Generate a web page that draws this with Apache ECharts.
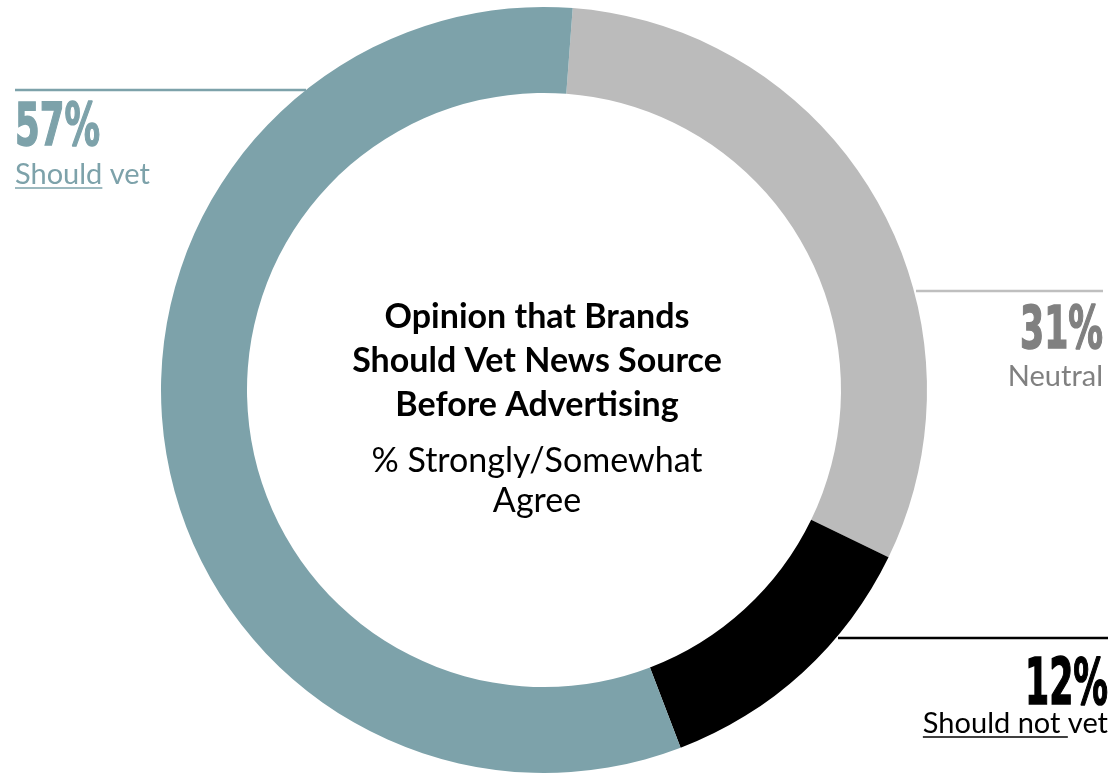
<!DOCTYPE html>
<html>
<head>
<meta charset="utf-8">
<script src="https://cdn.jsdelivr.net/npm/echarts@6/dist/echarts.min.js"></script>
<style>
html,body{margin:0;padding:0;background:#fff;}
#chart{width:1114px;height:775px;}
</style>
</head>
<body>
<div id="chart"></div>
<script>
// ---- data ----
const categories = ['Neutral', 'Should not vet', 'Should vet'];
const values = [31, 12, 57];
const pctLabels = ['31%', '12%', '57%'];
const underlinedParts = ['', 'Should not ', 'Should'];
const sliceColors = ['#BBBBBB', '#000000', '#7DA2AA'];
const labelColors = ['#808080', '#000000', '#7DA2AA'];
const titleLines = ['Opinion that Brands', 'Should Vet News Source', 'Before Advertising'];
const subtitleLines = ['% Strongly/Somewhat', 'Agree'];

const chart = echarts.init(document.getElementById('chart'), null, {renderer: 'canvas'});

const FONT_PCT = '"DejaVu Sans", sans-serif';
const FONT_TXT = 'Lato, "Open Sans", sans-serif';

const mctx = document.createElement('canvas').getContext('2d');
function textWidth(str, size, weight, family) {
  mctx.font = (weight || 'normal') + ' ' + size + 'px ' + family;
  return mctx.measureText(str).width;
}

// annotation layout (decoration only)
const layout = {
  'Should vet':     {x: 15,   align: 'left',  lineY: 90,  lx1: 15,  lx2: 306,  pctY: 146, pctW: 85, pctSize: 58, labY: 184},
  'Neutral':        {x: 1103, align: 'right', lineY: 291, lx1: 916, lx2: 1103, pctY: 349, pctW: 83, pctSize: 58, labY: 386},
  'Should not vet': {x: 1108, align: 'right', lineY: 638, lx1: 838, lx2: 1108, pctY: 705, pctW: 83, pctSize: 64, labY: 733}
};

const LAB_SIZE = 29;
const graphics = [];
categories.forEach((cat, i) => {
  const L = layout[cat];
  const col = labelColors[i];
  graphics.push({
    type: 'line', silent: true,
    shape: {x1: L.lx1, y1: L.lineY, x2: L.lx2, y2: L.lineY},
    style: {stroke: i === 0 ? '#BFBFBF' : col, lineWidth: 2.5}
  });
  const w = textWidth(pctLabels[i], L.pctSize, 'bold', FONT_PCT);
  graphics.push({
    type: 'text', silent: true, x: L.x, y: L.pctY - 0.27 * L.pctSize,
    originX: 0, originY: 0,
    scaleX: L.pctW / w,
    style: {text: pctLabels[i], fill: col, stroke: col, lineWidth: 1.6,
            font: 'bold ' + L.pctSize + 'px ' + FONT_PCT,
            align: L.align, verticalAlign: 'middle'}
  });
  graphics.push({
    type: 'text', silent: true, x: L.x, y: L.labY - 0.32 * LAB_SIZE,
    style: {text: cat, fill: col, font: 'normal ' + LAB_SIZE + 'px ' + FONT_TXT,
            align: L.align, verticalAlign: 'middle'}
  });
  if (underlinedParts[i]) {
    const full = textWidth(cat, LAB_SIZE, 'normal', FONT_TXT);
    const part = textWidth(underlinedParts[i], LAB_SIZE, 'normal', FONT_TXT);
    const startX = L.align === 'left' ? L.x : L.x - full;
    graphics.push({
      type: 'line', silent: true,
      shape: {x1: startX, y1: L.labY + 4, x2: startX + part, y2: L.labY + 4},
      style: {stroke: col, lineWidth: 1.5}
    });
  }
});

graphics.push({
  type: 'text', silent: true, x: 537, y: 361,
  style: {text: titleLines.join('\n'), fill: '#000', font: 'bold 34px ' + FONT_TXT,
          align: 'center', verticalAlign: 'middle', lineHeight: 44}
});
graphics.push({
  type: 'text', silent: true, x: 537, y: 481,
  style: {text: subtitleLines.join('\n'), fill: '#000', font: 'normal 34px ' + FONT_TXT,
          align: 'center', verticalAlign: 'middle', lineHeight: 40}
});

chart.setOption({
  backgroundColor: '#ffffff',
  animation: false,
  series: [{
    type: 'pie',
    silent: true,
    center: [544, 390],
    radius: [297, 383],
    startAngle: 85.7,
    clockwise: true,
    label: {show: false},
    labelLine: {show: false},
    data: categories.map((c, i) => ({name: c, value: values[i], itemStyle: {color: sliceColors[i]}}))
  }],
  graphic: graphics
});
</script>
</body>
</html>
